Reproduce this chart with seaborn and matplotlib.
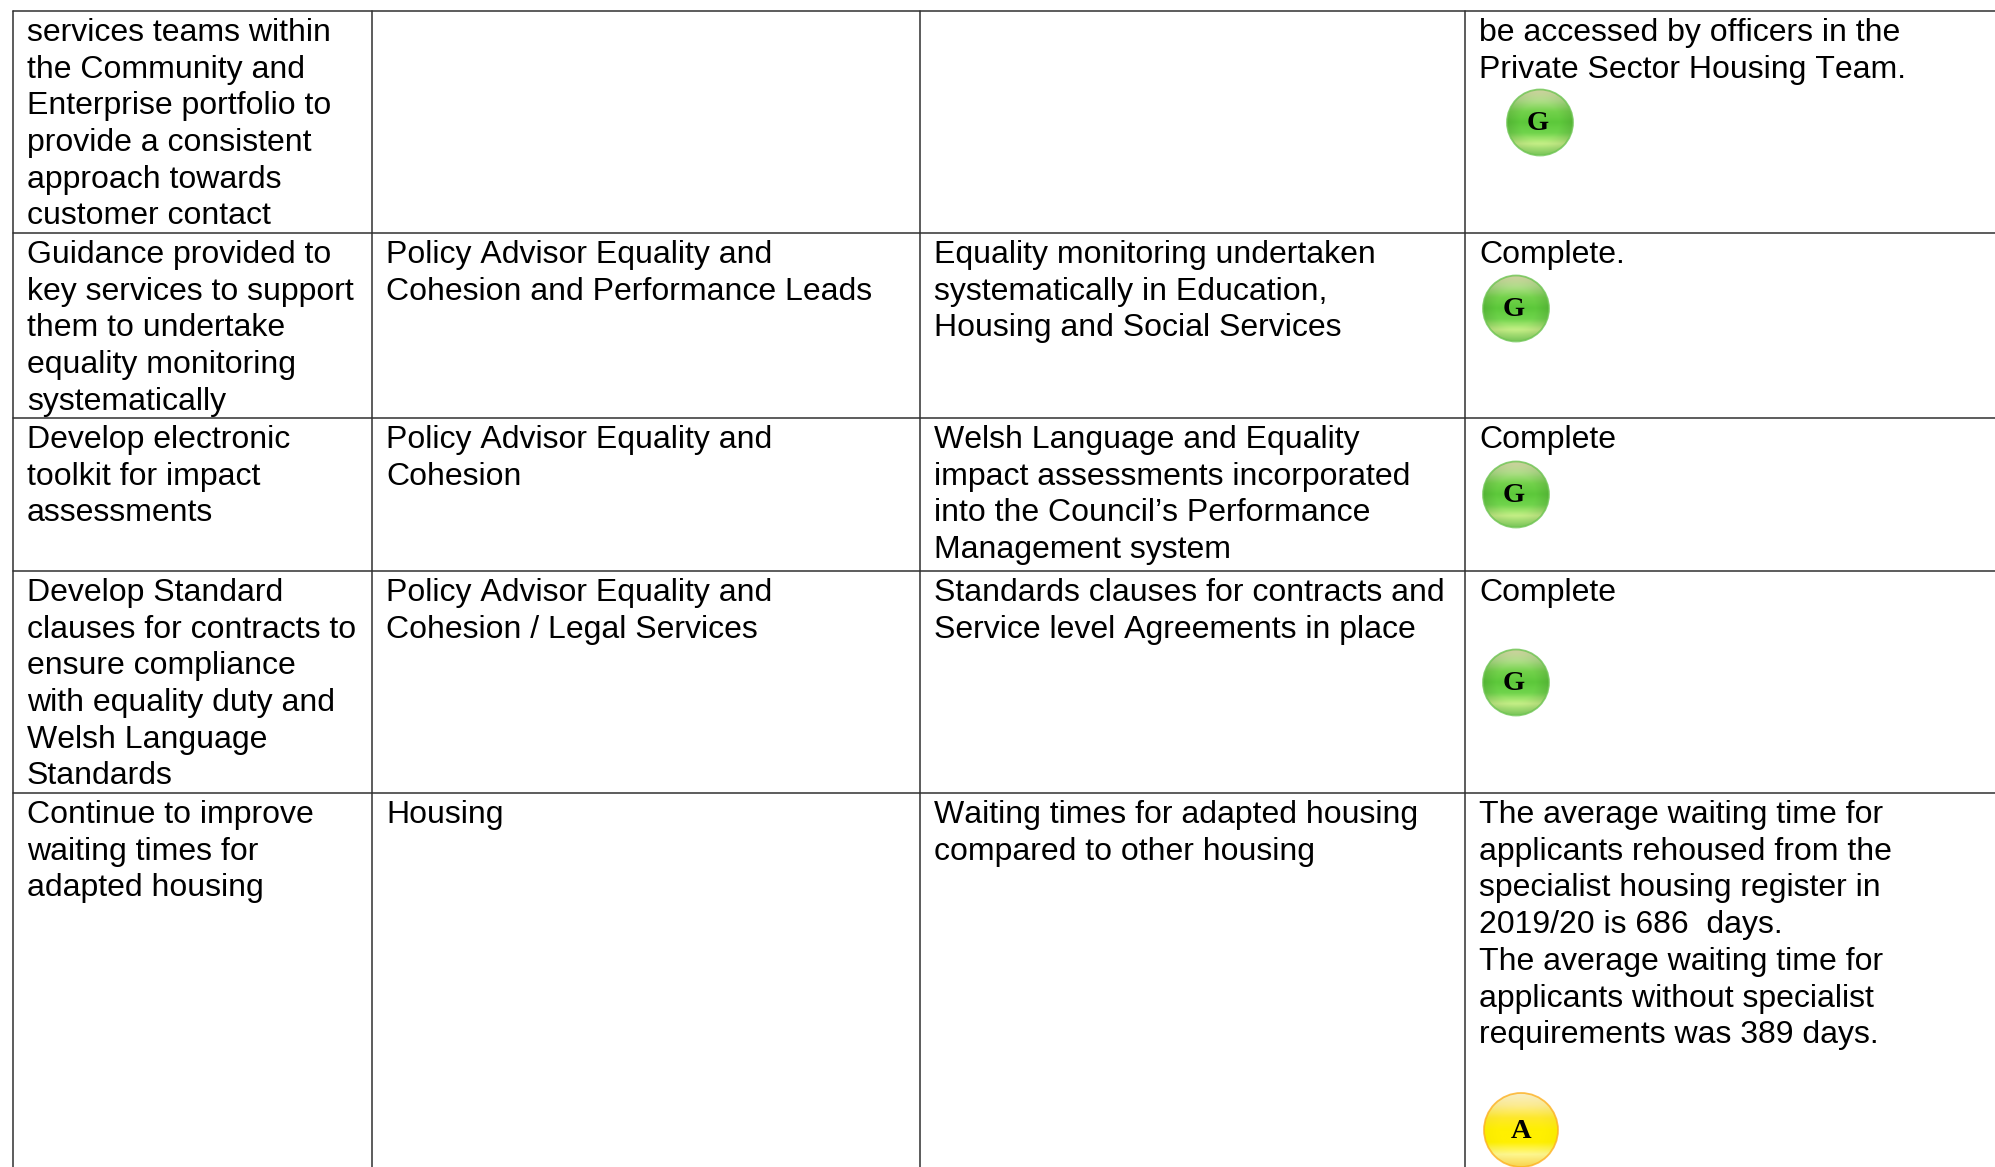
import numpy as np
import pandas as pd
import matplotlib
matplotlib.use("Agg")
import matplotlib.pyplot as plt
from matplotlib.patches import Circle
from matplotlib.colors import LinearSegmentedColormap
import seaborn as sns

W, H = 1995, 1167

# table text, one list per column, one entry per row
actions = [
    ["services teams within", "the Community and", "Enterprise portfolio to",
     "provide a consistent", "approach towards", "customer contact"],
    ["Guidance provided to", "key services to support", "them to undertake",
     "equality monitoring", "systematically"],
    ["Develop electronic", "toolkit for impact", "assessments"],
    ["Develop Standard", "clauses for contracts to", "ensure compliance",
     "with equality duty and", "Welsh Language", "Standards"],
    ["Continue to improve", "waiting times for", "adapted housing"],
]
owners = [
    [],
    ["Policy Advisor Equality and", "Cohesion and Performance Leads"],
    ["Policy Advisor Equality and", "Cohesion"],
    ["Policy Advisor Equality and", "Cohesion / Legal Services"],
    ["Housing"],
]
measures = [
    [],
    ["Equality monitoring undertaken", "systematically in Education,",
     "Housing and Social Services"],
    ["Welsh Language and Equality", "impact assessments incorporated",
     "into the Council\u2019s Performance", "Management system"],
    ["Standards clauses for contracts and", "Service level Agreements in place"],
    ["Waiting times for adapted housing", "compared to other housing"],
]
progress = [
    ["be accessed by officers in the", "Private Sector Housing Team."],
    ["Complete."],
    ["Complete"],
    ["Complete"],
    ["The average waiting time for", "applicants rehoused from the",
     "specialist housing register in", "2019/20 is 686  days.",
     "The average waiting time for", "applicants without specialist",
     "requirements was 389 days."],
]
ratings = ["G", "G", "G", "G", "A"]

# layout in reference pixels
row_tops = [10.5, 232.5, 417.5, 570.5, 792.5]
col_lefts = [12.5, 371.5, 919.5, 1464.5]
badge_x = [1540, 1516, 1516, 1516, 1521]
badge_y = [122.5, 308.5, 494.5, 682.5, 1130]
badge_r = [33, 33, 33, 33, 37]

LINE = 36.7
FIRST = 30.5
PAD = 14.5
FONT = 23
GRID = "#303030"

sns.set_theme(style="white")
plt.rcParams["font.family"] = ["Liberation Sans", "DejaVu Sans"]
plt.rcParams["text.kerning_factor"] = 16

green = LinearSegmentedColormap.from_list(
    "g", ["#e4e6b0", "#b4e08c", "#74d24c", "#5cc83a", "#70d44c", "#c8f288", "#88dc64"])
amber = LinearSegmentedColormap.from_list(
    "a", ["#fdf3c8", "#fdec90", "#fee82a", "#fff000", "#fff000", "#fff890", "#fdd850"])
cmaps = {"G": green, "A": amber}
rims = {"G": "#6cc450", "A": "#fdb020"}
letter_dx = {"G": -2, "A": 0}


def draw_badge(ax, x, y, r, rating):
    # vertical glossy shading, a little darker towards the sides
    yy, xx = np.mgrid[-1:1:120j, -1:1:120j]
    img = cmaps[rating]((yy + 1) / 2)
    dark = np.clip(np.hypot(xx, yy) - 0.6, 0, 1)[..., None] * (0.25 if rating == "G" else 0.05)
    img[..., :3] = img[..., :3] * (1 - dark)
    im = ax.imshow(img, extent=(x - r, x + r, y + r, y - r), zorder=3,
                   interpolation="bilinear", aspect="auto")
    im.set_clip_path(Circle((x, y), r, transform=ax.transData))
    ax.add_patch(Circle((x, y), r, fill=False, ec=rims[rating], lw=1.3, alpha=0.8, zorder=4))
    ax.text(x + letter_dx[rating], y + 1.5, rating, ha="center", va="center", zorder=5,
            color="black", family="Liberation Serif", weight="bold", fontsize=20.5)


def main() -> None:
    fig = plt.figure(figsize=(W / 100, H / 100), dpi=100, facecolor="white")
    ax = fig.add_axes([0, 0, 1, 1])

    borders = pd.DataFrame({"y": row_tops})
    for y in borders["y"]:
        sns.lineplot(x=[col_lefts[0], W], y=[y, y], ax=ax, color=GRID, lw=1.1,
                     estimator=None, sort=False)
    for x in col_lefts:
        sns.lineplot(x=[x, x], y=[row_tops[0], H], ax=ax, color=GRID, lw=1.1,
                     estimator=None, sort=False)

    for col, x in zip([actions, owners, measures, progress], col_lefts):
        for rows, top in zip(col, row_tops):
            for i, line in enumerate(rows):
                ax.text(x + PAD, top + FIRST + i * LINE, line, fontsize=FONT,
                        color="black", ha="left", va="baseline")

    for x, y, r, rating in zip(badge_x, badge_y, badge_r, ratings):
        draw_badge(ax, x, y, r, rating)

    ax.set_xlim(0, W)
    ax.set_ylim(H, 0)
    ax.axis("off")
    fig.savefig("out.png", dpi=100)


if __name__ == "__main__":
    main()
